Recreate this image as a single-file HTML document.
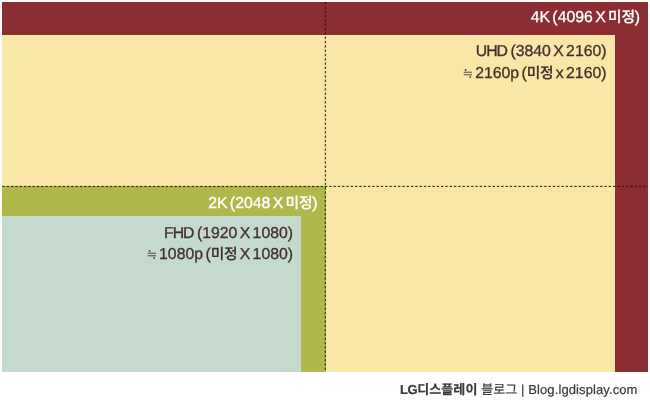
<!DOCTYPE html>
<html lang="ko">
<head>
<meta charset="utf-8">
<title>4K / UHD / 2K / FHD</title>
<style>
html,body{margin:0;padding:0;background:#fff;}
body{text-rendering:geometricPrecision;width:650px;height:419px;position:relative;overflow:hidden;
  font-family:"Liberation Sans","Noto Sans CJK KR","NanumGothic",sans-serif;}
.box{position:absolute;}
#red{left:2px;top:2px;width:645.5px;height:370px;background:#8b2d32;}
#yellow{left:2px;top:35px;width:613px;height:337px;background:#f9e7a8;}
#green{left:2px;top:186px;width:323.5px;height:186px;background:#b1b84b;}
#blue{left:2px;top:216px;width:299px;height:156px;background:#c5dacf;}
svg#lines{position:absolute;left:0;top:0;width:650px;height:419px;}
.t{position:absolute;white-space:nowrap;text-align:right;line-height:1;font-weight:400;-webkit-text-stroke:0.33px currentColor;}
.c{letter-spacing:-1.05px;}
.c2{letter-spacing:-0.8px;}
.c3{letter-spacing:-1.1px;}
.k{font-size:14.8px;-webkit-text-stroke:0.2px currentColor;font-weight:500;letter-spacing:-0.3px;}
.ap{display:inline-block;font-size:15.5px;line-height:1;-webkit-text-stroke:0.25px currentColor;transform:scaleX(0.8);transform-origin:50% 50%;margin:0 -1.3px 0 -2.9px;position:relative;top:0.4px;letter-spacing:0;}
.w{color:#fff;}
.d{color:#44302d;}
</style>
</head>
<body>
<div class="box" id="red"></div>
<div class="box" id="yellow"></div>
<div class="box" id="green"></div>
<div class="box" id="blue"></div>
<svg id="lines" viewBox="0 0 650 419">
  <line x1="325.3" y1="2.2" x2="325.3" y2="372" stroke="#221a0c" stroke-width="1" stroke-dasharray="2.4 1.9"/>
  <line x1="2.4" y1="186.4" x2="647.5" y2="186.4" stroke="#221a0c" stroke-width="1" stroke-dasharray="2.4 1.9"/>
</svg>
<div class="t w" id="t4k" style="right:10px;top:10.32px;font-size:15.8px;letter-spacing:0px;word-spacing:-2px;">4K (4096 X <span class="k">미정</span>)</div>
<div class="t d" id="tuhd1" style="right:43.5px;top:44.22px;font-size:15.8px;letter-spacing:0px;word-spacing:-2px;"><span class="c">UH</span>D (3840 X 2160)</div>
<div class="t d" id="tuhd2" style="right:43.5px;top:66.32px;font-size:15.8px;letter-spacing:0px;word-spacing:-2px;"><span class="ap">≒</span> 2160p (<span class="k">미정</span> x 2160)</div>
<div class="t w" id="t2k" style="right:332.5px;top:195.72px;font-size:15.8px;letter-spacing:0px;word-spacing:-2px;">2K (2048 X <span class="k">미정</span>)</div>
<div class="t d" id="tfhd1" style="right:357px;top:225.67px;font-size:15.8px;letter-spacing:0px;word-spacing:-2px;"><span class="c2">F</span><span class="c3">H</span>D (1920 X 1080)</div>
<div class="t d" id="tfhd2" style="right:357px;top:247.17px;font-size:15.8px;letter-spacing:0px;word-spacing:-2px;"><span class="ap">≒</span> 1080p (<span class="k">미정</span> X 1080)</div>
<div class="t d" id="foot" style="right:12.5px;top:383px;font-size:13px;letter-spacing:0.1px;color:#3a3a3a;-webkit-text-stroke:0.2px #3a3a3a;"><b><span style="letter-spacing:-0.5px">LG</span>디스플레이</b> 블로그 | Blog.lgdisplay.com</div>
</body>
</html>
